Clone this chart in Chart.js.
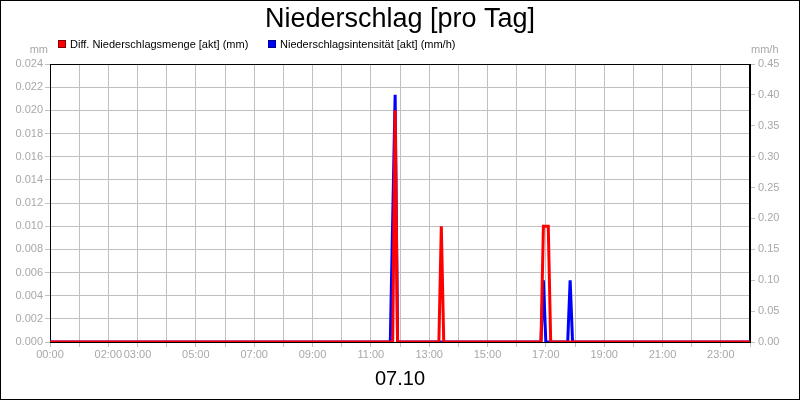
<!DOCTYPE html>
<html>
<head>
<meta charset="utf-8">
<script src="https://cdn.jsdelivr.net/npm/chart.js@4.4.1/dist/chart.umd.min.js"></script>
<style>
  html, body { margin: 0; padding: 0; background: #ffffff; }
  #wrap { width: 800px; height: 400px; position: relative; }
</style>
</head>
<body>
<div id="wrap"><canvas id="c" width="800" height="400"></canvas></div>
<script>
// ---- Data ----
const chartTitle = 'Niederschlag [pro Tag]';
const dateLabel = '07.10';
const seriesNames = ['Diff. Niederschlagsmenge [akt] (mm)', 'Niederschlagsintensität [akt] (mm/h)'];
const unitLeft = 'mm';
const unitRight = 'mm/h';

const amountTimes  = ['00:00', '11:45', '11:50', '11:55', '13:20', '13:25', '13:30', '16:50', '16:55', '17:05', '17:10', '24:00'];
const amountValues = [0, 0, 0.020, 0, 0, 0.010, 0, 0, 0.010, 0.010, 0, 0];

const rateTimes  = ['00:00', '11:40', '11:50', '11:55', '16:50', '16:55', '17:00', '17:45', '17:50', '17:55', '24:00'];
const rateValues = [0, 0, 0.40, 0, 0, 0.10, 0, 0, 0.10, 0, 0];

const xTickHours  = [0, 2, 3, 5, 7, 9, 11, 13, 15, 17, 19, 21, 23];
const xTickLabels = ['00:00', '02:00', '03:00', '05:00', '07:00', '09:00', '11:00', '13:00', '15:00', '17:00', '19:00', '21:00', '23:00'];

// ---- helpers ----
function toHours(t) { const p = t.split(':'); return Number(p[0]) + Number(p[1]) / 60; }
function pts(times, vals) { return times.map((t, i) => ({ x: toHours(t), y: vals[i] })); }

const colors = ['#ff0000', '#0000ff'];
const tickColor = '#a8a8a8';
const gridColor = '#c0c0c0';
const FONT = "'Liberation Sans', Arial, sans-serif";

const decorPlugin = {
  id: 'decor',
  beforeDraw(chart) {
    const ctx = chart.ctx;
    ctx.save();
    ctx.fillStyle = '#ffffff';
    ctx.fillRect(0, 0, chart.width, chart.height);
    ctx.restore();
  },
  beforeDatasetsDraw(chart) {
    const ctx = chart.ctx;
    const a = chart.chartArea;
    ctx.save();
    ctx.strokeStyle = '#000000';
    ctx.lineWidth = 1;
    ctx.strokeRect(Math.round(a.left) + 0.5, Math.round(a.top) + 0.5, Math.round(a.right - a.left) - 1, Math.round(a.bottom - a.top));
    ctx.restore();
  },
  afterDraw(chart) {
    const ctx = chart.ctx;
    ctx.save();
    // outer border
    ctx.strokeStyle = '#000000';
    ctx.lineWidth = 1;
    ctx.strokeRect(0.5, 0.5, chart.width - 1, chart.height - 1);
    // title
    ctx.fillStyle = '#000000';
    ctx.font = '27px ' + FONT;
    ctx.textAlign = 'center';
    ctx.textBaseline = 'alphabetic';
    ctx.fillText(chartTitle, 400, 27);
    // date label
    ctx.font = '20px ' + FONT;
    ctx.fillText(dateLabel, 400, 385);
    // legend
    ctx.font = '11px ' + FONT;
    ctx.textAlign = 'left';
    const legendX = [58, 268];
    seriesNames.forEach((name, i) => {
      const x = legendX[i];
      ctx.fillStyle = colors[i];
      ctx.fillRect(x, 40, 8, 8);
      ctx.strokeStyle = i === 0 ? '#800000' : '#000080';
      ctx.strokeRect(x + 0.5, 40.5, 7, 7);
      ctx.fillStyle = '#000000';
      ctx.fillText(name, x + 12, 48);
    });
    // units
    ctx.fillStyle = tickColor;
    ctx.textAlign = 'right';
    ctx.fillText(unitLeft, 48, 53);
    ctx.textAlign = 'left';
    ctx.fillText(unitRight, 751, 53);
    ctx.restore();
  }
};

new Chart(document.getElementById('c'), {
  type: 'line',
  data: {
    datasets: [
      {
        label: seriesNames[0],
        data: pts(amountTimes, amountValues),
        borderColor: colors[0],
        backgroundColor: colors[0],
        borderWidth: 3,
        pointRadius: 0,
        tension: 0,
        yAxisID: 'y'
      },
      {
        label: seriesNames[1],
        data: pts(rateTimes, rateValues),
        borderColor: colors[1],
        backgroundColor: colors[1],
        borderWidth: 3,
        pointRadius: 0,
        tension: 0,
        yAxisID: 'y1'
      }
    ]
  },
  options: {
    responsive: false,
    animation: false,
    devicePixelRatio: 1,
    layout: { padding: { top: 64, left: 0, right: 0, bottom: 0 } },
    plugins: {
      legend: { display: false },
      title: { display: false },
      tooltip: { enabled: false }
    },
    scales: {
      x: {
        type: 'linear',
        min: 0,
        max: 24,
        afterBuildTicks(scale) {
          const t = [];
          for (let h = 0; h <= 24; h++) t.push({ value: h });
          scale.ticks = t;
        },
        afterFit(scale) { scale.height = 58; },
        ticks: {
          autoSkip: false,
          maxRotation: 0,
          minRotation: 0,
          padding: 1,
          color: tickColor,
          font: { family: FONT, size: 11 },
          callback(v) {
            const i = xTickHours.indexOf(v);
            return i >= 0 ? xTickLabels[i] : '';
          }
        },
        grid: { color: gridColor, tickLength: 5, lineWidth: 1 },
        border: { display: true, color: '#000000' }
      },
      y: {
        position: 'left',
        min: 0,
        max: 0.024,
        afterFit(scale) { scale.width = 50; },
        ticks: {
          stepSize: 0.002,
          padding: 2,
          color: tickColor,
          font: { family: FONT, size: 11 },
          callback(v) { return Number(v).toFixed(3); }
        },
        grid: { color: gridColor, tickLength: 5, lineWidth: 1 },
        border: { display: true, color: '#000000' }
      },
      y1: {
        position: 'right',
        min: 0,
        max: 0.45,
        afterFit(scale) { scale.width = 50; },
        ticks: {
          stepSize: 0.05,
          padding: 3,
          color: tickColor,
          font: { family: FONT, size: 11 },
          callback(v) { return Number(v).toFixed(2); }
        },
        grid: { drawOnChartArea: false, color: gridColor, tickLength: 5, lineWidth: 1 },
        border: { display: true, color: '#000000' }
      }
    }
  },
  plugins: [decorPlugin]
});
</script>
</body>
</html>
